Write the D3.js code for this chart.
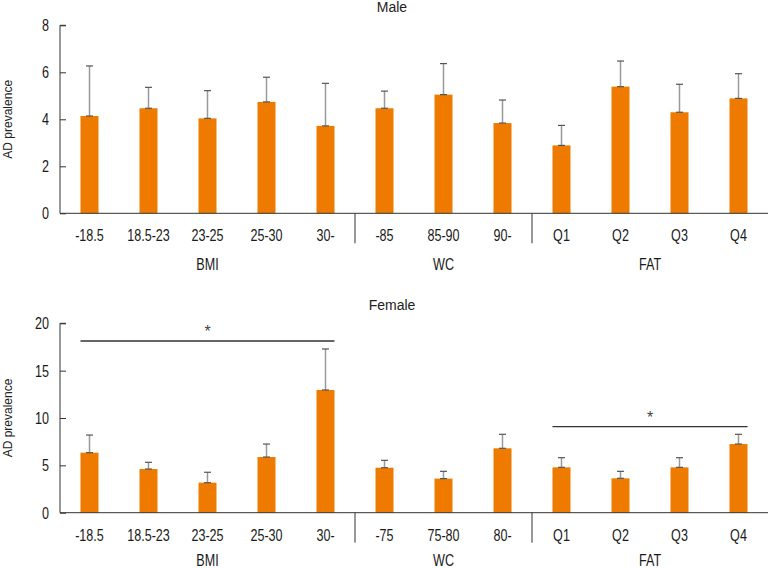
<!DOCTYPE html>
<html><head><meta charset="utf-8">
<script src="https://cdn.jsdelivr.net/npm/d3@7"></script>
<style>
body{margin:0;background:#fff;}
svg{display:block;}
text{font-family:"Liberation Sans",Arial,sans-serif;}
</style></head><body>
<svg id="c" width="769" height="568"></svg>
<script>
const categoriesMale = ["-18.5","18.5-23","23-25","25-30","30-","-85","85-90","90-","Q1","Q2","Q3","Q4"];
const categoriesFemale = ["-18.5","18.5-23","23-25","25-30","30-","-75","75-80","80-","Q1","Q2","Q3","Q4"];
const groups = ["BMI","WC","FAT"];
const groupSizes = [5,3,4];
const maleValues = [4.14,4.47,4.04,4.74,3.72,4.47,5.05,3.84,2.89,5.39,4.30,4.89];
const maleUpper  = [6.27,5.36,5.22,5.79,5.53,5.20,6.37,4.82,3.74,6.48,5.49,5.94];
const femaleValues = [6.34,4.61,3.17,5.88,12.96,4.75,3.60,6.80,4.79,3.63,4.79,7.25];
const femaleUpper  = [8.20,5.32,4.27,7.25,17.29,5.53,4.37,8.28,5.81,4.37,5.81,8.28];
const maleTicks = [0,2,4,6,8];
const femaleTicks = [0,5,10,15,20];
const femaleSig = [[0,4],[8,11]];
const maleSig = [];

const svg = d3.select("#c");
const ORANGE = "#EE7B00";
const SX = 0.74;
const FS = 17;

function narrow(g, x, y, txt, size, anchor){
  return g.append("text").attr("transform",`translate(${x},${y}) scale(${SX},1)`)
    .attr("text-anchor",anchor||"middle").attr("font-size",size).attr("fill","#1a1a1a").text(txt);
}

function panel(opt){
  const g = svg.append("g");
  const x = d3.scaleBand().domain(d3.range(opt.cats.length)).range([60,768]).paddingInner(0.695).paddingOuter(0.3475);
  const y = d3.scaleLinear().domain([0,opt.max]).range([opt.y0,opt.y1]);
  // title
  g.append("text").attr("x",392).attr("y",opt.titleY).attr("text-anchor","middle")
    .attr("font-size",14).attr("fill","#222").text(opt.title);
  // y axis
  const ya = d3.axisRight(y).tickValues(opt.ticks).tickSize(6).tickFormat("");
  const yg = g.append("g").attr("transform","translate(60,0)").call(ya);
  yg.select(".domain").attr("stroke","#333").attr("d",`M6,${opt.y1}H0V${opt.y0}`);
  yg.selectAll(".tick line").attr("stroke","#333");
  opt.ticks.forEach(t=>narrow(g,49,y(t)+6,t,FS,"end"));
  // y label
  g.append("text").attr("transform",`translate(12,${(opt.y0+opt.y1)/2}) rotate(-90)`)
    .attr("text-anchor","middle").attr("font-size",12).attr("fill","#222").text("AD prevalence");
  // bars
  g.selectAll(".bar").data(opt.vals).enter().append("rect")
    .attr("x",(d,i)=>x(i)).attr("width",x.bandwidth()).attr("y",d=>y(d)).attr("height",d=>y(0)-y(d)).attr("fill",ORANGE);
  // error bars
  opt.vals.forEach((v,i)=>{
    const cx = x(i)+x.bandwidth()/2;
    g.append("line").attr("x1",cx).attr("x2",cx).attr("y1",y(v)).attr("y2",y(opt.up[i])).attr("stroke","#999").attr("stroke-width",1.5);
    [v,opt.up[i]].forEach(t=>{
      g.append("line").attr("x1",cx-3.5).attr("x2",cx+3.5).attr("y1",y(t)).attr("y2",y(t)).attr("stroke","#555").attr("stroke-width",1.2);
    });
  });
  // x axis line
  g.append("line").attr("x1",60).attr("x2",768).attr("y1",opt.y0).attr("y2",opt.y0).attr("stroke","#333").attr("stroke-width",1);
  // separators & group labels
  let start = 0;
  groupSizes.forEach((n,k)=>{
    const first = x(start), last = x(start+n-1)+x.bandwidth();
    narrow(g,(first+last)/2,opt.groupY,groups[k],FS,"middle");
    if(k>0){
      const bx = x(start) - x.step()*x.paddingInner()/2;
      g.append("line").attr("x1",bx).attr("x2",bx).attr("y1",opt.y0).attr("y2",opt.y0+30).attr("stroke","#333");
    }
    start += n;
  });
  // tick labels
  opt.cats.forEach((c,i)=>narrow(g,x(i)+x.bandwidth()/2,opt.y0+28,c,FS,"middle"));
  // significance
  opt.sig.forEach(([a,b])=>{
    const x1 = x(a), x2 = x(b)+x.bandwidth();
    const ly = opt.sigY(a,b);
    g.append("line").attr("x1",x1).attr("x2",x2).attr("y1",ly).attr("y2",ly).attr("stroke","#333").attr("stroke-width",1.3);
    g.append("text").attr("x",(x1+x2)/2).attr("y",ly-4).attr("text-anchor","middle")
      .attr("font-size",16).attr("fill","#444").text("*");
  });
}

panel({title:"Male",titleY:12,cats:categoriesMale,vals:maleValues,up:maleUpper,max:8,ticks:maleTicks,
  y0:213.3,y1:25.3,groupY:270,sig:maleSig,sigY:()=>0});
panel({title:"Female",titleY:310,cats:categoriesFemale,vals:femaleValues,up:femaleUpper,max:20,ticks:femaleTicks,
  y0:512.7,y1:323.3,groupY:566,sig:femaleSig,sigY:(a,b)=> a===0 ? 341 : 426.7});
</script>
</body></html>
